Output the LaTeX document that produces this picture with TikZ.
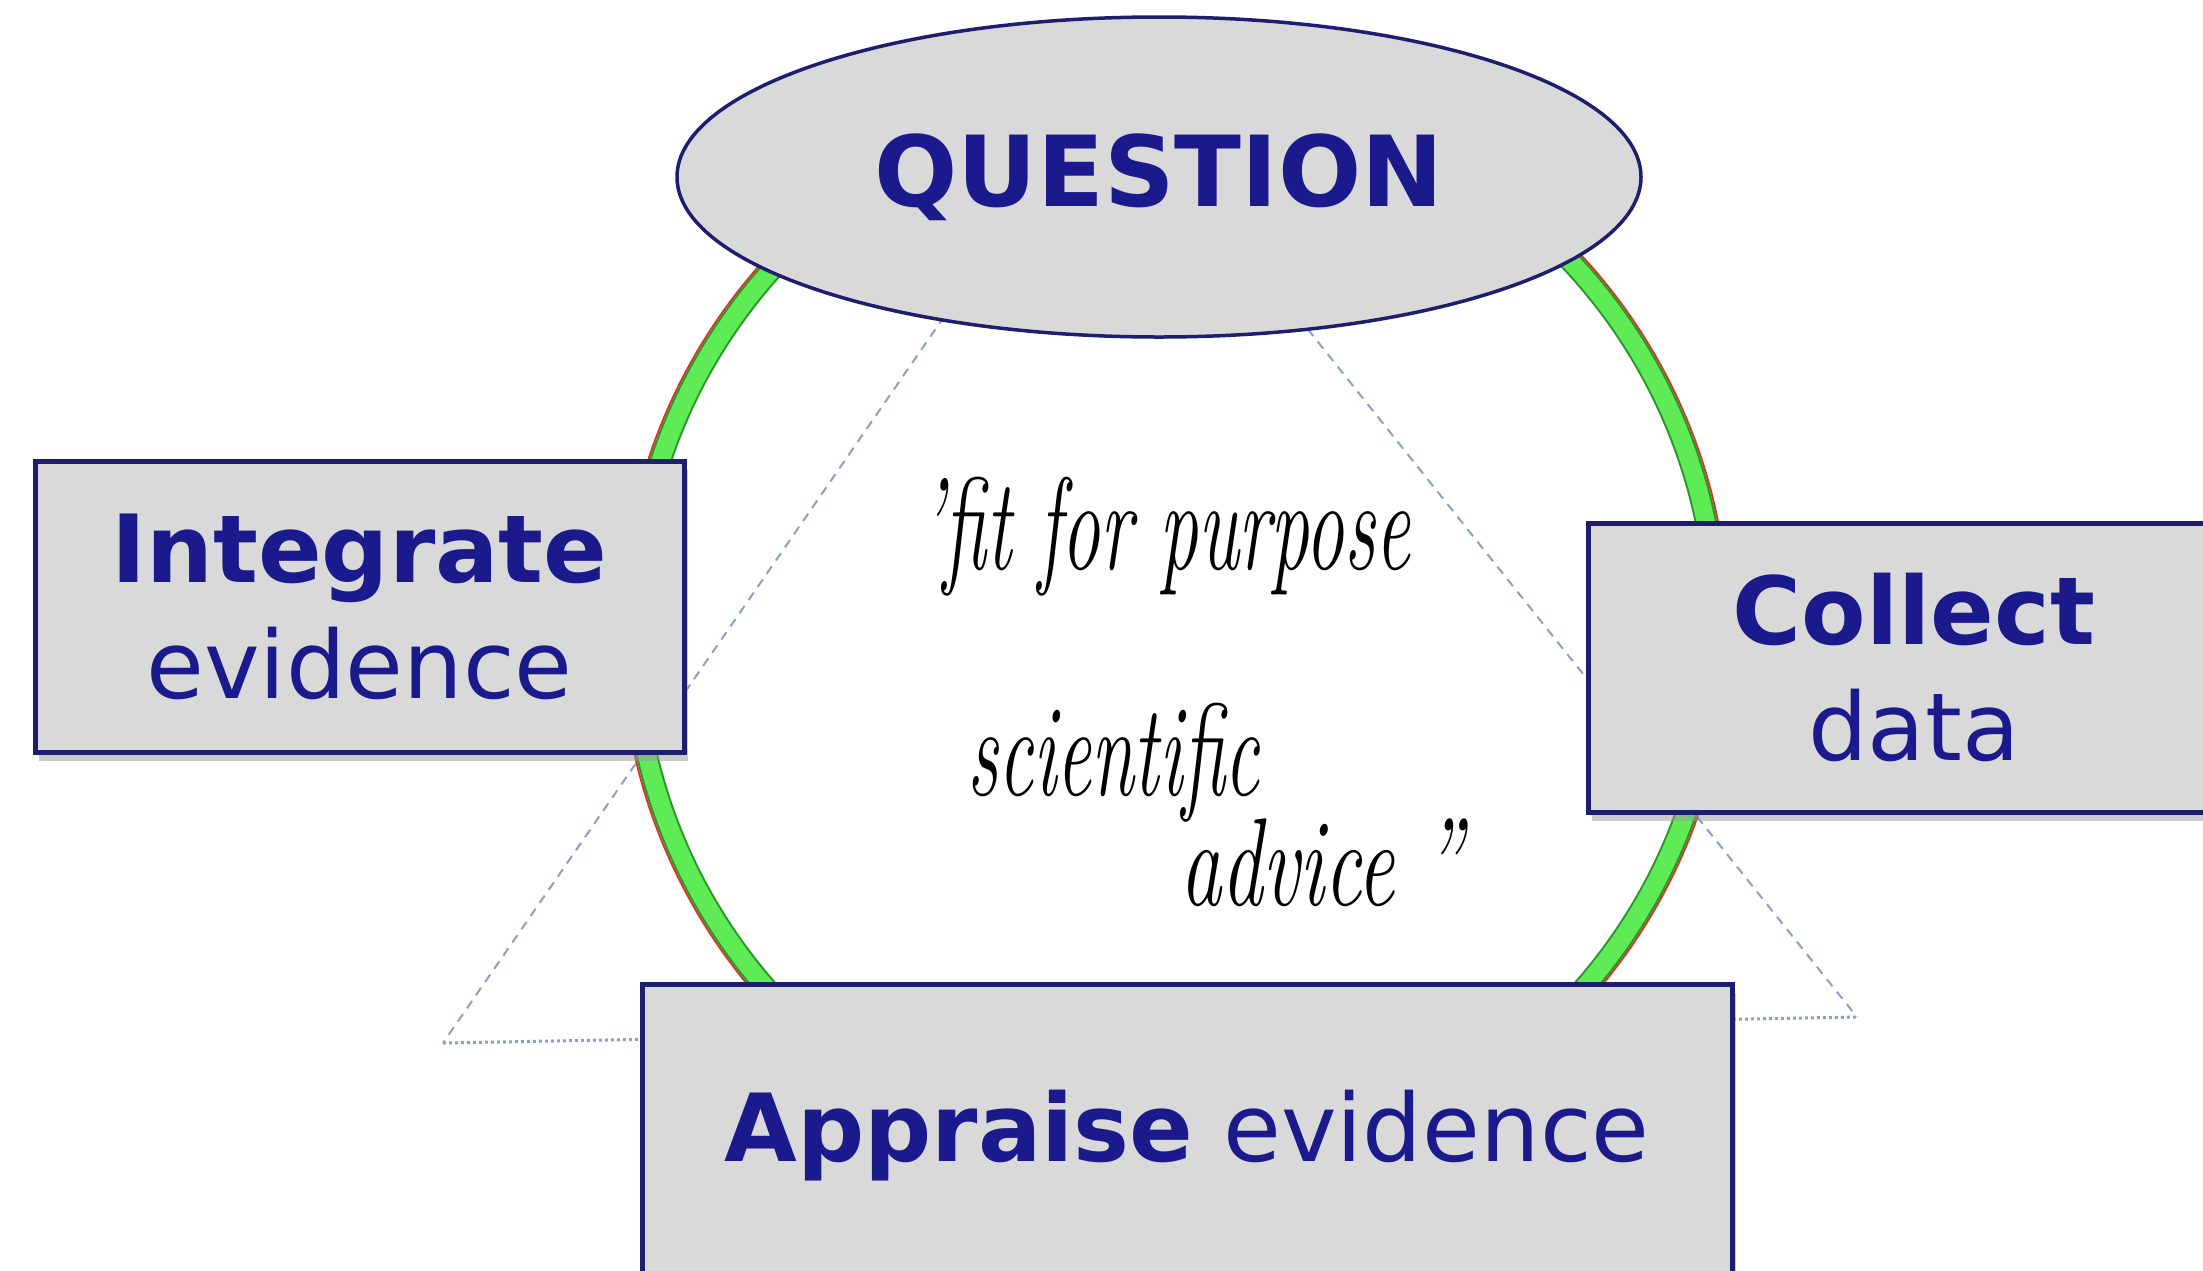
\documentclass[tikz,border=0pt]{standalone}
\usepackage{fontspec}
\usepackage{graphicx}
\usetikzlibrary{shapes.geometric,shadows}
\newfontfamily\dvfont{DejaVu Sans}
\definecolor{qtext}{RGB}{26,26,140}
\definecolor{qedge}{RGB}{30,30,110}
\definecolor{qfill}{RGB}{217,217,217}
\definecolor{ringgreen}{RGB}{95,235,85}
\definecolor{ringdark}{RGB}{40,150,40}
\definecolor{ringred}{RGB}{215,55,40}
\definecolor{tricol}{RGB}{140,160,195}
\begin{document}
\begin{tikzpicture}[x=1pt,y=-1pt,
  box/.style={draw=qedge, line width=5pt, fill=qfill, rectangle, inner sep=0pt,
    align=center, text=qtext, font=\dvfont\fontsize{94}{116}\selectfont,
    drop shadow={shadow xshift=4pt, shadow yshift=-9pt, opacity=0.5, fill=gray!80}},
  qell/.style={ellipse, draw=qedge, line width=3.5pt, fill=qfill, inner sep=0pt,
    text=qtext, font=\dvfont\bfseries\fontsize{98}{110}\selectfont},
  triside/.style={draw=tricol, line width=2pt, dash pattern=on 9pt off 7pt},
  tribase/.style={draw=tricol, line width=3pt, dash pattern=on 3pt off 3pt},
  hand/.style={anchor=base west, inner sep=0pt, text=black,
    font=\itshape\fontsize{125}{130}\selectfont}]
\useasboundingbox (0,0) rectangle (2203,1270);
\clip (0,0) rectangle (2203,1270);
\fill[white] (0,0) rectangle (2203,1270);

% dashed triangle behind
\coordinate (apex) at (1108,79);
\coordinate (tl) at (443,1043);
\coordinate (tr) at (1857,1017);
\draw[triside] (apex) -- (tl);
\draw[triside] (apex) -- (tr);
\draw[tribase] (tl) -- (tr);

% ring
\coordinate (ringc) at (1175,632);
\draw[ringred, line width=2pt] (ringc) circle[radius=554];
\draw[ringdark, line width=22pt] (ringc) circle[radius=542];
\draw[ringgreen, line width=18pt] (ringc) circle[radius=542];

% handwritten text
\node[hand] (hw1) at (920,569) {\scalebox{0.62}[1.05]{'fit for purpose}};
\node[hand] (hw2) at (967,795) {\scalebox{0.62}[1.05]{scientific}};
\node[hand] (hw3) at (1180,905) {\scalebox{0.66}[1.0]{advice ''}};

% question
\node[qell, minimum width=964pt, minimum height=320pt] (question) at (1159,177) {QUESTION};

% boxes
\node[box, minimum width=649pt, minimum height=291pt] (integrate) at (359.5,606.5)
  {{\bfseries Integrate}\\evidence};
\node[box, minimum width=652pt, minimum height=289pt] (collect) at (1914,667.5)
  {{\bfseries Collect}\\data};
\node[box, minimum width=1090pt, minimum height=304pt] (appraise) at (1187,1136)
  {{\bfseries Appraise} evidence};
\end{tikzpicture}
\end{document}
